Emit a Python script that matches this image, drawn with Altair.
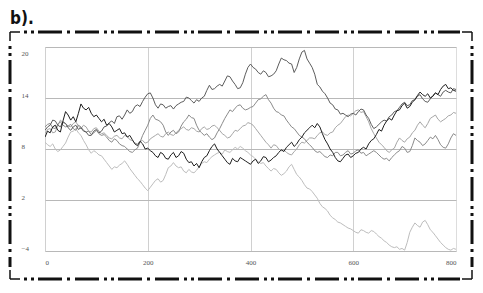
import altair as alt
import pandas as pd

step = 5

black = [9.4, 10.1, 9.9, 10.6, 10.8, 10.2, 10.0, 11.3, 12.4, 12.0,
         11.4, 11.8, 11.2, 12.2, 13.3, 12.8, 12.6, 12.9, 12.2, 11.8,
         12.0, 11.6, 11.2, 11.5, 10.8, 11.0, 10.6, 10.0, 10.2, 10.4,
         9.8, 9.9, 9.4, 9.6, 9.1, 8.6, 8.4, 8.9, 8.6, 8.0,
         8.1, 7.8, 7.6, 7.2, 7.0, 7.6, 7.4, 6.9, 6.8, 7.3,
         7.6, 7.0, 7.2, 7.7, 7.5, 6.8, 6.4, 6.5, 6.0, 6.3,
         5.8, 6.5, 7.0, 7.2, 7.8, 8.3, 8.6, 8.0, 7.6, 7.2,
         6.8, 6.4, 6.2, 6.9, 6.6, 6.5, 7.0, 6.8, 6.6, 6.4,
         6.2, 6.6, 6.8, 6.3, 6.6, 7.1, 7.0, 6.5, 6.7, 7.0,
         7.2, 7.6, 7.9, 7.7, 8.2, 8.5, 8.8, 8.3, 8.6, 9.1,
         9.4, 9.9, 10.2, 10.5, 10.8, 10.5, 11.0, 10.6, 9.8, 9.1,
         8.6, 8.0, 7.6, 7.0, 6.6, 6.5, 6.9, 7.3, 7.4, 7.0,
         7.2, 7.5, 7.6, 8.0, 8.2, 8.0, 8.6, 9.0, 9.2, 9.7,
         10.3, 10.1, 10.8, 11.3, 11.6, 11.4, 12.0, 12.5, 12.6, 13.1,
         13.4, 12.8, 13.0, 13.5, 13.8, 14.3, 14.7, 14.4, 14.2, 14.5,
         14.0, 14.2, 14.6, 14.4, 15.0, 15.4, 15.6, 15.1, 15.2, 14.9,
         14.8]
dark = [10.2, 10.6, 10.8, 11.4, 11.3, 10.8, 10.6, 11.2, 11.0, 10.5,
        10.2, 10.6, 10.8, 10.3, 10.5, 10.1, 10.0, 9.6, 9.6, 10.1,
        10.3, 9.9, 10.1, 10.6, 10.7, 11.1, 11.3, 11.0, 11.8, 11.9,
        11.5, 12.0, 12.6, 12.2, 12.4, 13.0, 13.2, 13.0, 13.6, 14.1,
        14.5, 14.6, 14.0, 13.2, 12.8, 13.3, 13.2, 12.8, 13.0, 13.1,
        12.7, 13.1, 13.3, 13.5, 13.6, 14.1, 14.0, 13.7, 13.4, 13.8,
        13.6, 14.0, 14.2, 14.9, 15.5, 15.0, 15.1, 15.4, 15.6, 15.4,
        16.0, 16.6, 16.5, 16.0, 15.6, 15.1, 15.2, 15.8, 16.8, 17.6,
        18.0, 17.6, 17.4, 17.0, 16.8, 17.2, 17.0, 16.5, 16.6, 16.8,
        17.2, 18.0, 18.7, 18.5, 18.4, 18.1, 18.0, 17.0, 17.6, 18.6,
        19.4, 19.6, 18.6, 18.1, 17.6, 16.8, 15.6, 15.3, 14.8, 14.5,
        14.0, 13.4, 13.2, 12.7, 12.6, 12.1, 12.2, 12.0, 11.8, 12.1,
        12.2, 12.0, 12.4, 12.7, 12.6, 12.0, 11.6, 10.9, 10.4, 10.6,
        10.9, 11.2, 11.4, 11.3, 11.8, 12.0, 12.4, 12.5, 12.9, 13.3,
        13.5, 13.1, 13.2, 13.7, 13.8, 14.2, 14.4, 13.9, 13.6, 13.5,
        13.9, 14.3, 14.6, 14.4, 14.2, 14.7, 14.9, 14.7, 14.6, 15.1,
        15.0]
mid = [10.6, 10.9, 11.0, 10.5, 10.4, 10.9, 11.2, 10.8, 10.6, 10.7,
       10.9, 10.4, 10.2, 10.8, 10.6, 10.2, 10.0, 10.1, 9.7, 9.9,
       10.2, 9.8, 9.6, 9.7, 9.4, 9.0, 8.8, 9.2, 9.0, 8.6,
       8.4, 8.3, 8.0, 7.7, 7.6, 7.9, 8.1, 8.8, 9.6, 10.2,
       10.8, 11.6, 12.0, 11.5, 11.4, 11.2, 10.8, 10.0, 9.6, 10.0,
       10.2, 9.8, 10.0, 10.7, 11.2, 11.5, 12.0, 11.7, 11.6, 10.8,
       10.2, 9.9, 9.6, 9.8, 9.4, 9.1, 9.3, 9.9, 10.4, 11.0,
       11.6, 12.1, 12.6, 12.4, 12.8, 13.1, 13.2, 12.8, 12.6, 12.7,
       12.9, 13.0, 13.4, 13.8, 13.9, 14.2, 14.4, 13.8, 13.4, 12.8,
       12.4, 12.3, 12.0, 11.9, 11.4, 11.0, 10.6, 10.4, 10.0, 9.6,
       9.4, 9.2, 8.8, 8.5, 8.2, 7.8, 7.6, 7.7, 7.4, 7.1,
       7.0, 7.3, 7.2, 7.6, 7.6, 7.2, 7.3, 7.6, 7.8, 7.4,
       7.5, 7.8, 7.9, 7.5, 7.6, 7.2, 7.4, 7.6, 7.8, 7.6,
       7.3, 7.0, 6.8, 6.9, 6.6, 7.0, 7.3, 7.6, 7.8, 8.3,
       8.1, 7.6, 7.7, 8.4, 9.3, 9.0, 8.8, 8.4, 8.6, 9.0,
       9.4, 9.2, 9.6, 9.1, 8.5, 8.2, 8.1, 8.6, 9.3, 9.8,
       9.6]
light = [9.8, 10.3, 10.4, 9.9, 10.0, 10.8, 11.4, 11.1, 11.0, 10.7,
         10.6, 11.0, 11.2, 10.7, 10.4, 10.8, 10.6, 10.1, 10.0, 10.4,
         10.5, 10.1, 9.8, 9.9, 9.6, 9.3, 9.2, 9.5, 9.6, 9.3,
         9.2, 9.6, 9.5, 9.1, 9.0, 8.7, 8.6, 8.9, 9.0, 8.7,
         8.8, 9.2, 9.4, 9.6, 9.8, 9.5, 9.4, 9.8, 10.0, 9.7,
         9.6, 9.9, 10.2, 10.4, 10.6, 10.3, 10.2, 10.5, 10.4, 10.1,
         10.0, 10.4, 10.6, 10.3, 10.4, 10.7, 10.8, 10.5, 10.2, 9.8,
         9.6, 9.3, 9.4, 9.8, 10.2, 10.1, 10.4, 10.7, 10.8, 11.1,
         11.0, 10.8, 10.4, 10.0, 9.6, 9.2, 8.8, 8.5, 8.1, 8.5,
         8.4, 8.0, 7.8, 7.9, 7.6, 7.4, 7.3, 7.7, 8.0, 8.5,
         8.8, 8.7, 9.0, 9.3, 9.3, 9.2, 9.6, 9.9, 10.0, 9.7,
         9.6, 9.9, 10.0, 10.5, 10.8, 11.0, 11.4, 11.8, 12.0, 11.9,
         12.2, 12.5, 12.6, 12.3, 12.4, 11.8, 11.2, 10.4, 9.8, 9.3,
         8.8, 8.5, 8.2, 7.8, 7.6, 7.9, 8.1, 8.8, 9.3, 9.0,
         8.8, 9.2, 9.4, 9.9, 10.2, 10.8, 11.2, 10.8, 10.5, 11.0,
         11.6, 11.8, 12.0, 11.5, 11.2, 11.4, 11.6, 11.9, 12.0, 12.3,
         12.2]
pale = [8.8, 8.5, 8.3, 8.6, 8.0, 7.7, 7.9, 8.3, 8.7, 9.4,
        10.0, 10.1, 10.4, 9.9, 9.6, 9.0, 8.5, 7.9, 7.5, 7.8,
        7.6, 7.3, 7.2, 6.8, 6.4, 6.0, 5.6, 5.9, 5.8, 6.1,
        6.3, 6.6, 6.2, 5.7, 5.3, 4.9, 4.5, 4.2, 3.8, 3.4,
        3.1, 3.5, 3.9, 4.3, 4.5, 4.1, 4.3, 5.0, 5.8, 6.0,
        6.4, 6.0, 5.8, 5.9, 5.4, 5.2, 5.6, 5.3, 5.2, 5.5,
        5.9, 6.3, 6.5, 6.4, 6.8, 7.1, 7.3, 7.5, 7.6, 7.4,
        7.9, 7.7, 7.6, 7.9, 8.2, 8.0, 8.3, 8.1, 7.8, 7.6,
        7.3, 7.1, 6.8, 6.5, 6.3, 6.4, 6.0, 5.7, 5.4, 5.7,
        5.6, 5.2, 4.9, 5.1, 5.4, 5.9, 6.2, 5.6, 5.0, 4.7,
        4.3, 3.8, 3.4, 3.3, 3.0, 2.6, 2.2, 1.6, 1.2, 1.0,
        0.7, 0.2, -0.1, -0.3, -0.6, -0.7, -0.9, -1.1, -1.3, -1.4,
        -1.6, -1.8, -1.9, -1.5, -1.6, -1.8, -1.9, -1.6, -1.7, -2.0,
        -2.3, -2.5, -2.8, -3.0, -3.3, -3.5, -3.6, -3.5, -3.8, -3.7,
        -3.9, -3.0, -1.8, -1.2, -0.7, -1.0, -1.2, -0.6, -0.4, -0.9,
        -1.5, -1.8, -2.2, -2.6, -3.0, -3.3, -3.6, -3.8, -3.9, -3.7,
        -3.8]

series_names = ["s1", "s2", "s3", "s4", "s5"]
series_vals = [pale, light, mid, dark, black]
series_colors = ["#bdbdbd", "#a6a6a6", "#8a8a8a", "#5c5c5c", "#1e1e1e"]

x_ticks = [0, 200, 400, 600, 800]
y_ticks = [-4, 2, 8, 14, 20]
panel_label = "b)."

rows = []
for name, vals in zip(series_names, series_vals):
    for i, yv in enumerate(vals):
        rows.append({"x": i * step, "y": yv, "s": name})
df = pd.DataFrame(rows)

x_axis = alt.Axis(
    values=x_ticks, title=None, ticks=False, domain=False,
    labelFont="Liberation Serif", labelFontSize=7, labelColor="#555",
    labelPadding=7, labelFlush=True,
    gridColor="#d0d0d0", gridWidth=1,
    gridOpacity={"condition": {"test": "datum.value == 800", "value": 0}, "value": 1},
)
y_axis = alt.Axis(
    values=y_ticks, title=None, ticks=False, domain=False,
    labelFont="Liberation Serif", labelFontSize=7, labelColor="#555",
    labelAlign="left", labelPadding=24,
    labelBaseline={"condition": {"test": "datum.value == 20", "value": "top"}, "value": "alphabetic"},
    labelOffset={"condition": {"test": "datum.value == 20", "value": 2}, "value": -1},
    labelExpr="datum.value < 0 ? '\u2212' + abs(datum.value) : datum.label",
    gridColor="#b8b8b8", gridWidth=1,
)

lines = alt.Chart(df).mark_line(strokeWidth=1, clip=True).encode(
    x=alt.X("x:Q", scale=alt.Scale(domain=[0, 800], nice=False), axis=x_axis),
    y=alt.Y("y:Q", scale=alt.Scale(domain=[-4, 20], nice=False, zero=False), axis=y_axis),
    color=alt.Color("s:N", scale=alt.Scale(domain=series_names, range=series_colors), legend=None),
    detail="s:N",
)

one = pd.DataFrame({"k": [0]})
L, R, T, B = -35, 427, -15, 232
dash = [3, 4, 3, 4, 24, 5, 3, 5, 24, 5]


def hrule(x1, x2, y, w, d=None):
    kw = dict(color="#111", strokeWidth=w, clip=False)
    if d:
        kw["strokeDash"] = d
    return alt.Chart(one).mark_rule(**kw).encode(
        x=alt.value(x1), x2=alt.value(x2), y=alt.value(y))


def vrule(x, y1, y2, w, d=None):
    kw = dict(color="#111", strokeWidth=w, clip=False)
    if d:
        kw["strokeDash"] = d
    return alt.Chart(one).mark_rule(**kw).encode(
        x=alt.value(x), y=alt.value(y1), y2=alt.value(y2))


frame = [
    hrule(L + 14, R - 12, T, 3, dash),
    hrule(L + 14, R - 12, B, 3, dash),
    vrule(L, T + 14, B - 12, 3, dash),
    vrule(R, T + 14, B - 12, 3, dash),
    hrule(L, L + 10, T, 1.5), vrule(L, T, T + 9, 1.5),
    hrule(R - 10, R, T, 1.5), vrule(R, T, T + 9, 1.5),
    hrule(L, L + 10, B, 1.5), vrule(L, B - 9, B, 1.5),
    hrule(R - 10, R, B, 1.5), vrule(R, B - 9, B, 1.5),
]

title = alt.Chart(one).mark_text(
    text=panel_label, align="left", baseline="top", fontSize=17,
    fontWeight="bold", color="#111",
    font="Liberation Sans Narrow, DejaVu Sans Condensed, Roboto, sans-serif",
).encode(x=alt.value(-35), y=alt.value(-36))

chart = alt.layer(lines, *frame, title).properties(
    width=411, height=204,
    padding={"left": 37, "top": 39, "right": 19, "bottom": 34},
    autosize="none",
).configure_view(stroke=None).configure(background="white")

chart.save("out.html", embed_options={"renderer": "svg", "actions": False})
